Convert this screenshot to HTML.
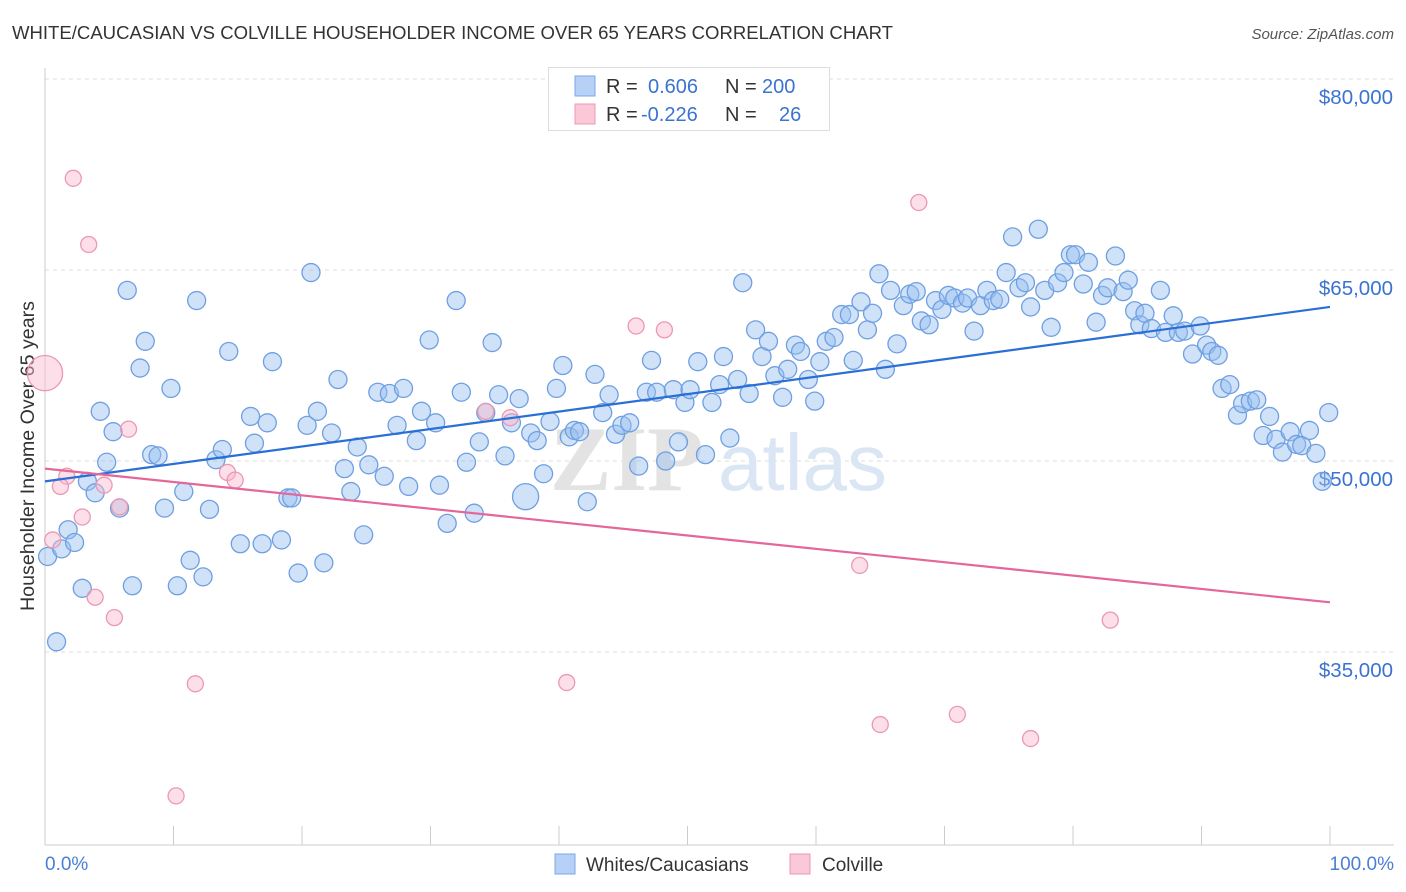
<!DOCTYPE html>
<html><head><meta charset="utf-8">
<style>
body{margin:0;background:#fff;font-family:"Liberation Sans",sans-serif;}
#wrap{position:relative;width:1406px;height:892px;overflow:hidden;}
</style></head>
<body>
<div id="wrap">
<svg id="chart" width="1406" height="892" xmlns="http://www.w3.org/2000/svg">
<text x="12" y="39" font-size="18" fill="#333" textLength="881" lengthAdjust="spacingAndGlyphs">WHITE/CAUCASIAN VS COLVILLE HOUSEHOLDER INCOME OVER 65 YEARS CORRELATION CHART</text>
<text x="1394" y="39" font-size="15" fill="#555" font-style="italic" text-anchor="end">Source: ZipAtlas.com</text>
<g id="grid"></g>
<g><text x="550" y="490" font-size="92" fill="#e3e3e3" font-family="Liberation Serif,serif" font-weight="bold">ZIP</text><text x="718" y="490" font-size="80" fill="#dbe6f4">atlas</text></g>
<line x1="45" y1="68" x2="45" y2="845" stroke="#ccc"/>
<line x1="45" y1="845" x2="1394" y2="845" stroke="#ccc"/>
<g id="xticks"></g>
<g id="ylabels"></g>
<text transform="translate(34,456) rotate(-90)" font-size="19" fill="#333" text-anchor="middle" textLength="310" lengthAdjust="spacingAndGlyphs">Householder Income Over 65 years</text>
<text x="45" y="870" font-size="19" fill="#4a7fd4">0.0%</text>
<text x="1394" y="870" font-size="19" fill="#4a7fd4" text-anchor="end">100.0%</text>
<g id="pts-blue"></g>
<g id="pts-pink"></g>
<g id="trends"></g>
<g>
<rect x="548.5" y="67.5" width="281" height="63" fill="#fff" stroke="#ddd"/>
<rect x="575" y="76" width="20" height="20" fill="#b6d1f5" stroke="#7aa8e8"/>
<rect x="575" y="104" width="20" height="20" fill="#fbc8d8" stroke="#ee9ab4"/>
<g font-size="20" fill="#333"><text x="606" y="93">R =</text><text x="606" y="121">R =</text><text x="725" y="93">N =</text><text x="725" y="121">N =</text></g>
<g font-size="20" fill="#3b73d0"><text x="648" y="93">0.606</text><text x="641" y="121">-0.226</text><text x="762" y="93">200</text><text x="779" y="121">26</text></g>
</g>
<g>
<rect x="555" y="854" width="20" height="20" fill="#b6d1f5" stroke="#7aa8e8"/>
<text x="586" y="871" font-size="19" fill="#333">Whites/Caucasians</text>
<rect x="790" y="854" width="20" height="20" fill="#fbc8d8" stroke="#ee9ab4"/>
<text x="822" y="871" font-size="19" fill="#333">Colville</text>
</g>
</svg>
</div>
<script>
const yTicks=[80,65,50,35];
const yTickLabels=["$80,000","$65,000","$50,000","$35,000"];
const xTickPcts=[0,10,20,30,40,50,60,70,80,90,100];
const blueX=[0.2,0.9,1.3,1.8,2.3,2.9,3.3,3.9,4.3,4.8,5.3,5.8,6.4,6.8,7.4,7.8,8.3,8.8,9.3,9.8,10.3,10.8,11.3,11.8,12.3,12.8,13.3,13.8,14.3,15.2,16.0,16.3,16.9,17.3,17.7,18.4,18.9,19.2,19.7,20.4,20.7,21.2,21.7,22.3,22.8,23.3,23.8,24.3,24.8,25.2,25.9,26.4,26.8,27.4,27.9,28.3,28.9,29.3,29.9,30.4,30.7,31.3,32.0,32.4,32.8,33.4,33.8,34.3,34.8,35.3,35.8,36.3,36.9,37.4,37.8,38.3,38.8,39.3,39.8,40.3,40.8,41.2,41.6,42.2,42.8,43.4,43.9,44.4,44.9,45.5,46.2,46.8,47.2,47.6,48.3,48.9,49.3,49.8,50.2,50.8,51.4,51.9,52.5,52.8,53.3,53.9,54.3,54.8,55.3,55.8,56.3,56.8,57.4,57.8,58.4,58.8,59.4,59.9,60.3,60.8,61.4,62.0,62.6,62.9,63.5,64.0,64.4,64.9,65.4,65.8,66.3,66.8,67.3,67.8,68.2,68.8,69.3,69.8,70.3,70.8,71.4,71.8,72.3,72.8,73.3,73.8,74.3,74.8,75.3,75.8,76.3,76.7,77.3,77.8,78.3,78.8,79.3,79.8,80.2,80.8,81.2,81.8,82.3,82.7,83.3,83.9,84.3,84.8,85.2,85.6,86.1,86.8,87.2,87.8,88.2,88.7,89.3,89.9,90.4,90.8,91.3,91.6,92.2,92.8,93.2,93.8,94.3,94.8,95.3,95.8,96.3,96.9,97.4,97.8,98.4,98.9,99.4,99.9];
const blueY=[42.5,35.8,43.1,44.6,43.6,40.0,48.4,47.5,53.9,49.9,52.3,46.3,63.4,40.2,57.3,59.4,50.5,50.4,46.3,55.7,40.2,47.6,42.2,62.6,40.9,46.2,50.1,50.9,58.6,43.5,53.5,51.4,43.5,53.0,57.8,43.8,47.1,47.1,41.2,52.8,64.8,53.9,42.0,52.2,56.4,49.4,47.6,51.1,44.2,49.7,55.4,48.8,55.3,52.8,55.7,48.0,51.6,53.9,59.5,53.0,48.1,45.1,62.6,55.4,49.9,45.9,51.5,53.8,59.3,55.2,50.4,53.0,54.9,47.2,52.2,51.6,49.0,53.1,55.7,57.5,51.9,52.4,52.3,46.8,56.8,53.8,55.2,52.1,52.8,53.0,49.6,55.4,57.9,55.4,50.0,55.6,51.5,54.6,55.6,57.8,50.5,54.6,56.0,58.2,51.8,56.4,64.0,55.3,60.3,58.2,59.4,56.7,55.0,57.2,59.1,58.6,56.4,54.7,57.8,59.4,59.7,61.5,61.5,57.9,62.5,60.3,61.6,64.7,57.2,63.4,59.2,62.2,63.1,63.3,61.0,60.7,62.6,61.9,63.0,62.8,62.4,62.8,60.2,62.2,63.4,62.6,62.7,64.8,67.6,63.6,64.0,62.1,68.2,63.4,60.5,64.0,64.8,66.2,66.2,63.9,65.6,60.9,63.0,63.6,66.1,63.3,64.2,61.8,60.7,61.6,60.4,63.4,60.1,61.4,60.1,60.2,58.4,60.6,59.1,58.6,58.3,55.7,56.0,53.6,54.5,54.7,54.8,52.0,53.5,51.7,50.7,52.3,51.3,51.2,52.4,50.6,48.4,53.8];
const blueSize=blueY.map(()=>1);
blueSize[73]=1.45;
const pinkX=[0,2.2,3.4,1.7,1.2,0.6,2.9,3.9,4.6,5.4,5.8,6.5,11.7,14.2,14.8,10.2,34.3,36.2,40.6,46.0,48.2,63.4,68.0,65.0,71.0,76.7,82.9];
const pinkY=[56.9,72.2,67.0,48.8,48.0,43.8,45.6,39.3,48.1,37.7,46.4,52.5,32.5,49.1,48.5,23.7,53.9,53.4,32.6,60.6,60.3,41.8,70.3,29.3,30.1,28.2,37.5];
const pinkSize=pinkY.map(()=>1);
pinkSize[0]=2.2;
const blueTrend=[48.4,62.1];
const pinkTrend=[49.4,38.9];

const NS="http://www.w3.org/2000/svg";
function X(p){return 45+p*12.85;}
function Y(v){return 79+(80-v)*12.733;}
function mk(tag,attrs,parent){const e=document.createElementNS(NS,tag);for(const k in attrs)e.setAttribute(k,attrs[k]);parent.appendChild(e);return e;}
const grid=document.getElementById('grid'),yl=document.getElementById('ylabels'),xt=document.getElementById('xticks');
yTicks.forEach((v,i)=>{
 const l=mk('line',{x1:45,x2:1394,y1:Y(v),y2:Y(v),stroke:'#ddd','stroke-dasharray':'4,4'},grid);
 
 
 const t=mk('text',{x:1393,y:Y(v)+25,'font-size':20.5,fill:'#3b73d0','text-anchor':'end'},yl);
 t.textContent=yTickLabels[i];
 
 
});
xTickPcts.forEach(p=>{
 const l=mk('line',{x1:X(p),x2:X(p),y1:826,y2:845,stroke:'#ccc'},xt);
 
 
});
const gb=document.getElementById('pts-blue');
blueX.forEach((x,i)=>{
 const c=mk('circle',{cx:X(x),cy:Y(blueY[i]),r:9*blueSize[i],fill:'rgba(150,190,240,0.45)',stroke:'#6f9fe2','stroke-width':1.3},gb);
 
 
});
const gp=document.getElementById('pts-pink');
pinkX.forEach((x,i)=>{
 const c=mk('circle',{cx:X(x),cy:Y(pinkY[i]),r:8*pinkSize[i],fill:'rgba(248,185,205,0.45)',stroke:'#ec98b2','stroke-width':1.3},gp);
 
 
});
const tr=document.getElementById('trends');
const bl=mk('line',{x1:X(0),y1:Y(blueTrend[0]),x2:X(100),y2:Y(blueTrend[1]),stroke:'#2a6fd6','stroke-width':2.2},tr);


const pl=mk('line',{x1:X(0),y1:Y(pinkTrend[0]),x2:X(100),y2:Y(pinkTrend[1]),stroke:'#e4679a','stroke-width':2.2},tr);


</script>
</body></html>
